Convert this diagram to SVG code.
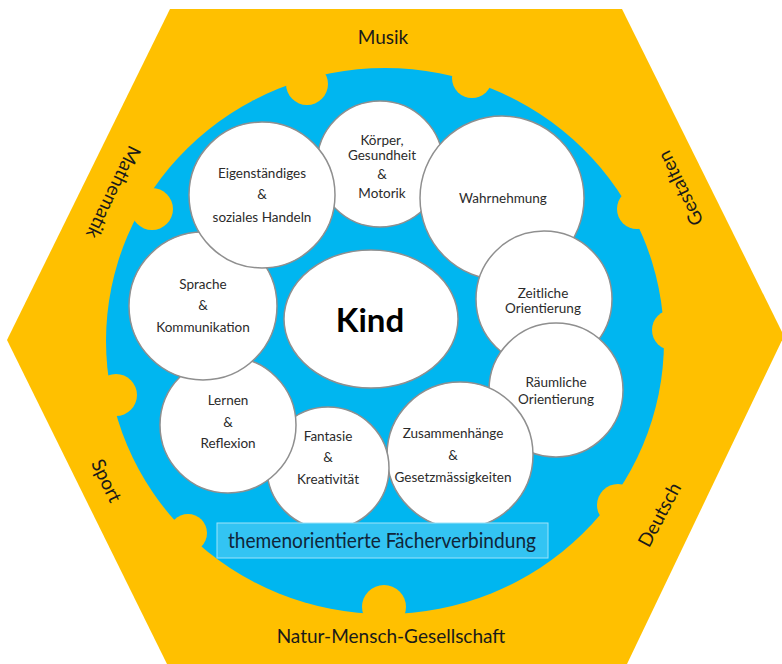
<svg xmlns="http://www.w3.org/2000/svg" width="782" height="664" viewBox="0 0 782 664">
<style>
.c{fill:#fff;stroke:#8f8f8f;stroke-width:1.5}
.t{font-family:Lato,"Liberation Sans",sans-serif;font-size:13.5px;fill:#2b2b2b;text-anchor:middle}
.o{font-family:Lato,"Liberation Sans",sans-serif;font-size:19px;fill:#1a1a1a;text-anchor:middle}
.k{fill:#FFC000}
</style>
<rect width="782" height="664" fill="#fff"/>
<g id="frame">
<polygon class="k" points="170,9 622,9 784,336 627,664 167,664 7,340"/>
<ellipse cx="385" cy="341" rx="279" ry="273" fill="#00B6F0"/>
<circle class="k" cx="307" cy="84" r="21"/>
<circle class="k" cx="472" cy="78" r="20"/>
<circle class="k" cx="152" cy="209" r="21"/>
<circle class="k" cx="637" cy="209" r="20"/>
<circle class="k" cx="672" cy="330" r="20"/>
<circle class="k" cx="116" cy="395" r="21"/>
<circle class="k" cx="188" cy="533" r="19"/>
<circle class="k" cx="384" cy="607" r="22"/>
<circle class="k" cx="618" cy="505" r="21"/>
</g>
<g id="subjects">
<text class="o" x="383" y="44">Musik</text>
<text class="o" x="391" y="643">Natur-Mensch-Gesellschaft</text>
<text class="o" transform="translate(113,192) rotate(116) translate(0,6)">Mathematik</text>
<text class="o" transform="translate(681,188) rotate(-116) translate(0,6)">Gestalten</text>
<text class="o" transform="translate(106,481) rotate(64) translate(0,6)">Sport</text>
<text class="o" transform="translate(660,515) rotate(-62) translate(0,6)">Deutsch</text>
</g>
<g id="koerper"><circle class="c" cx="380" cy="164" r="63"/>
<text class="t" x="382" y="145" font-size="12.5">Körper,</text><text class="t" x="382" y="160" font-size="12.5">Gesundheit</text><text class="t" x="382" y="179" font-size="12.5">&amp;</text><text class="t" x="382" y="198" font-size="12.5">Motorik</text></g>
<g id="wahrnehmung"><circle class="c" cx="502" cy="198" r="82"/>
<text class="t" x="503" y="203">Wahrnehmung</text></g>
<g id="zeitliche"><circle class="c" cx="544" cy="299" r="68"/>
<text class="t" x="543" y="298">Zeitliche</text><text class="t" x="543" y="313">Orientierung</text></g>
<g id="raeumliche"><circle class="c" cx="556" cy="390" r="67"/>
<text class="t" x="556" y="387">Räumliche</text><text class="t" x="556" y="404">Orientierung</text></g>
<g id="zusammenhaenge"><circle class="c" cx="460" cy="455" r="73"/>
<text class="t" x="453" y="438">Zusammenhänge</text><text class="t" x="453" y="460">&amp;</text><text class="t" x="453" y="482">Gesetzmässigkeiten</text></g>
<g id="fantasie"><circle class="c" cx="328" cy="468" r="61"/>
<text class="t" x="328" y="441">Fantasie</text><text class="t" x="328" y="462">&amp;</text><text class="t" x="328" y="484">Kreativität</text></g>
<g id="lernen"><circle class="c" cx="228" cy="425" r="68"/>
<text class="t" x="228" y="405">Lernen</text><text class="t" x="228" y="427">&amp;</text><text class="t" x="228" y="448">Reflexion</text></g>
<g id="sprache"><circle class="c" cx="203" cy="306" r="74"/>
<text class="t" x="203" y="289">Sprache</text><text class="t" x="203" y="310">&amp;</text><text class="t" x="203" y="332">Kommunikation</text></g>
<g id="eigenstaendiges"><circle class="c" cx="262" cy="195" r="73"/>
<text class="t" x="262" y="178">Eigenständiges</text><text class="t" x="262" y="199">&amp;</text><text class="t" x="262" y="222">soziales Handeln</text></g>
<g id="kind"><ellipse class="c" cx="371" cy="319" rx="87" ry="69"/>
<text x="370" y="332" font-family="Lato,'Liberation Sans',sans-serif" font-size="33" font-weight="bold" fill="#000" text-anchor="middle">Kind</text></g>
<g id="label"><rect x="217" y="523" width="331" height="35" fill="#33C4F3" stroke="#9EE3FA" stroke-width="1"/>
<text x="382" y="548" font-family="Lato,'Liberation Sans',sans-serif" font-size="22" fill="#10263A" text-anchor="middle" textLength="308" lengthAdjust="spacingAndGlyphs">themenorientierte Fächerverbindung</text></g>
<g id="connectors"/>
</svg>
